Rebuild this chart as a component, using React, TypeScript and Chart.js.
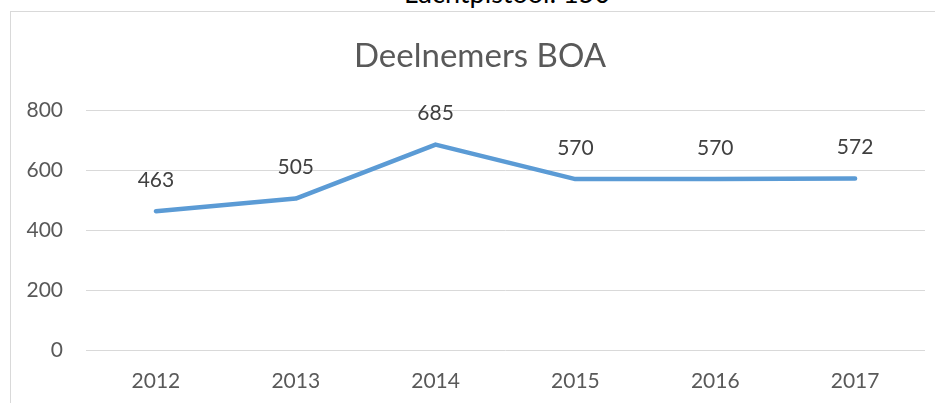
import React, { useEffect, useRef } from "react";
import { Chart, registerables } from "chart.js";

Chart.register(...registerables);

const years = ["2012", "2013", "2014", "2015", "2016", "2017"];
const deelnemers = [463, 505, 685, 570, 570, 572];
const yTicks = [0, 200, 400, 600, 800];
const chartTitle = "Deelnemers BOA";
const topText = "Luchtpistool: 150";

const FONT = "Lato";

const labelPlugin = {
  id: "valueLabels",
  afterDatasetsDraw(chart: any) {
    const ctx = chart.ctx;
    const meta = chart.getDatasetMeta(0);
    ctx.save();
    ctx.font = `21px ${FONT}`;
    ctx.fillStyle = "#404040";
    ctx.textAlign = "center";
    ctx.textBaseline = "middle";
    meta.data.forEach((pt: any, i: number) => {
      ctx.fillText(String(chart.data.datasets[0].data[i]), pt.x, pt.y - 31);
    });
    ctx.restore();
  },
};

export default function App() {
  const ref = useRef<HTMLCanvasElement>(null);
  useEffect(() => {
    if (!ref.current) return;
    const chart = new Chart(ref.current, {
      type: "line",
      data: {
        labels: years,
        datasets: [
          {
            data: deelnemers,
            borderColor: "#5b9bd5",
            borderWidth: 4.5,
            borderCapStyle: "round",
            borderJoinStyle: "round",
            pointRadius: 0,
            tension: 0,
          },
        ],
      },
      options: {
        animation: false,
        responsive: false,
        maintainAspectRatio: false,
        layout: { padding: { left: 0, right: 0, top: 0, bottom: 0 } },
        plugins: {
          legend: { display: false },
          tooltip: { enabled: false },
          title: {
            display: true,
            text: chartTitle,
            color: "#595959",
            font: { family: FONT, size: 33, weight: "normal" },
            padding: { top: 24.5, bottom: 34 },
          },
        },
        scales: {
          x: {
            offset: true,
            grid: { display: false, drawTicks: false },
            border: { display: false },
            ticks: {
              color: "#595959",
              font: { family: FONT, size: 21 },
              padding: 19,
              maxRotation: 0,
            },
            afterFit: (s: any) => {
              s.height = 62;
            },
          },
          y: {
            min: 0,
            max: 800,
            grid: { color: "#d9d9d9", lineWidth: 1, drawTicks: false },
            border: { display: false },
            afterBuildTicks: (s: any) => {
              s.ticks = yTicks.map((v) => ({ value: v }));
            },
            ticks: {
              color: "#595959",
              font: { family: FONT, size: 21 },
              padding: 23,
            },
            afterFit: (s: any) => {
              s.width = 75;
            },
          },
          yRight: {
            position: "right",
            display: true,
            min: 0,
            max: 800,
            grid: { display: false, drawTicks: false },
            border: { display: false },
            ticks: { display: false },
            afterFit: (s: any) => {
              s.width = 24;
            },
          },
        },
      },
      plugins: [labelPlugin],
    });
    return () => chart.destroy();
  }, []);

  return (
    <div
      style={{
        position: "fixed",
        left: 0,
        top: 0,
        width: 935,
        height: 403,
        overflow: "hidden",
        background: "#ffffff",
      }}
    >
      <div
        style={{
          position: "absolute",
          left: 0,
          width: 1014,
          top: -23,
          textAlign: "center",
          fontFamily: FONT,
          fontSize: 27,
          lineHeight: "32px",
          color: "#000000",
          whiteSpace: "nowrap",
        }}
      >
        {topText}
      </div>
      <div
        style={{
          position: "absolute",
          left: 10,
          top: 11,
          width: 1000,
          height: 1000,
          border: "1px solid #d9d9d9",
          boxSizing: "border-box",
        }}
      />
      <canvas
        ref={ref}
        width={938}
        height={400}
        style={{ position: "absolute", left: 11, top: 12, width: 938, height: 400 }}
      />
    </div>
  );
}
